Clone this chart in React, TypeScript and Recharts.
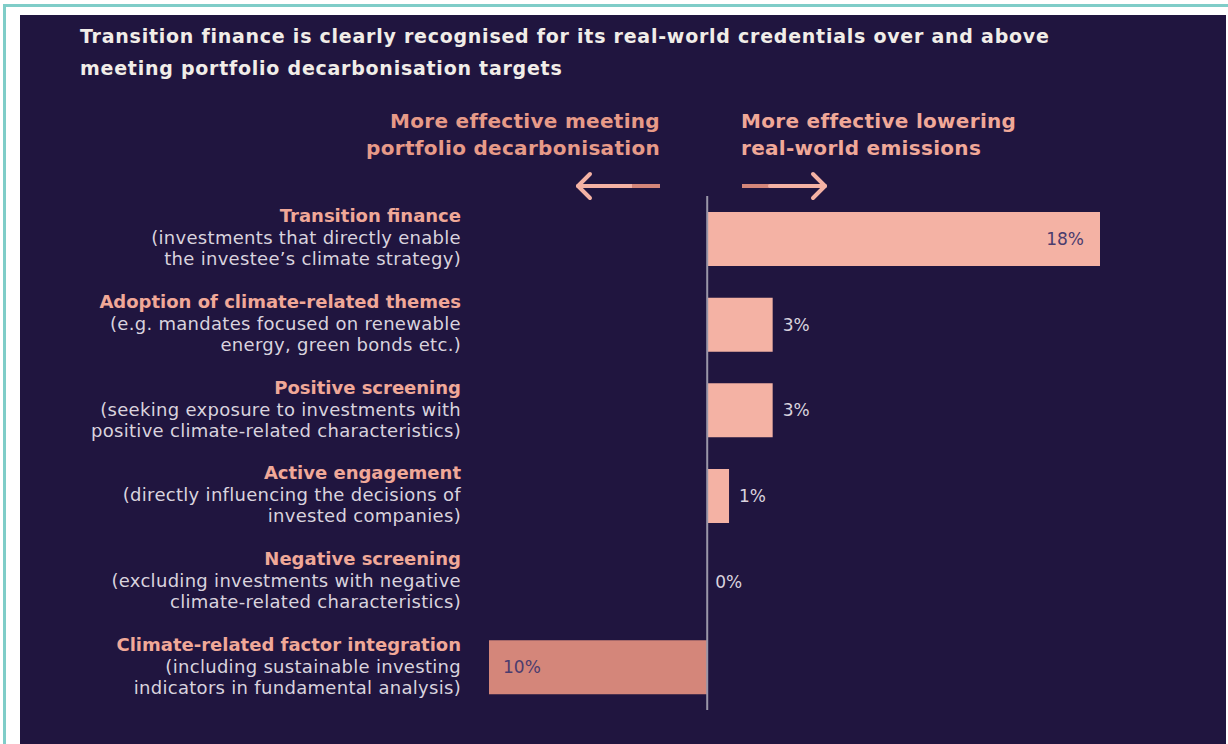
import React from 'react';
import { BarChart, Bar, XAxis, YAxis, Cell, LabelList, ReferenceLine } from 'recharts';

const categories = [
  'Transition finance',
  'Adoption of climate-related themes',
  'Positive screening',
  'Active engagement',
  'Negative screening',
  'Climate-related factor integration',
];
const descLine1 = [
  '(investments that directly enable',
  '(e.g. mandates focused on renewable',
  '(seeking exposure to investments with',
  '(directly influencing the decisions of',
  '(excluding investments with negative',
  '(including sustainable investing',
];
const descLine2 = [
  'the investee\u2019s climate strategy)',
  'energy, green bonds etc.)',
  'positive climate-related characteristics)',
  'invested companies)',
  'climate-related characteristics)',
  'indicators in fundamental analysis)',
];
const values = [18, 3, 3, 1, 0, -10];

const title1 = 'Transition finance is clearly recognised for its real-world credentials over and above';
const title2 = 'meeting portfolio decarbonisation targets';
const leftHead = ['More effective meeting', 'portfolio decarbonisation'];
const rightHead = ['More effective lowering', 'real-world emissions'];

const data = categories.map((name, i) => ({
  name,
  value: values[i],
}));

const NAVY = '#20153f';
const BAR = '#f4b2a4';
const BAR_NEG = '#d4867a';
const SALMON = '#f0a898';
const GREY = '#d9d3de';
const FONT = '"DejaVu Sans", "Open Sans", sans-serif';

const CatTick = (props: any) => {
  const { x, y, payload } = props;
  const i = categories.indexOf(payload.value);
  return (
    <g>
      <text x={x} y={y - 23} textAnchor="end" dominantBaseline="central" fill={SALMON} fontFamily={FONT} fontWeight={700} fontSize={18}>
        {categories[i]}
      </text>
      <text x={x} y={y - 1} textAnchor="end" dominantBaseline="central" fill={GREY} fontFamily={FONT} fontSize={18} letterSpacing={0.3}>
        {descLine1[i]}
      </text>
      <text x={x} y={y + 20} textAnchor="end" dominantBaseline="central" fill={GREY} fontFamily={FONT} fontSize={18} letterSpacing={0.3}>
        {descLine2[i]}
      </text>
    </g>
  );
};

const ValueLabel = (props: any) => {
  const { x, y, width, height, value } = props;
  const v = Number(value);
  const left = Math.min(x, x + width);
  const right = Math.max(x, x + width);
  const cy = y + height / 2;
  let tx = v === 0 ? left + 8 : right + 10;
  let anchor: any = 'start';
  let fill = GREY;
  if (v >= 5) {
    tx = right - 16;
    anchor = 'end';
    fill = '#4b3c6e';
  } else if (v <= -5) {
    tx = left + 14;
    anchor = 'start';
    fill = '#4b3c6e';
  }
  return (
    <text x={tx} y={cy} textAnchor={anchor} dominantBaseline="central" fill={fill} fontFamily={FONT} fontSize={17}>
      {`${Math.abs(v)}%`}
    </text>
  );
};

export default function App() {
  return (
    <div style={{ position: 'absolute', left: 0, top: 0, width: 1228, height: 744, background: '#ffffff', overflow: 'hidden' }}>
      <div style={{ position: 'absolute', left: 3, top: 4, width: 1225, height: 3, background: '#7fcdc8' }} />
      <div style={{ position: 'absolute', left: 3, top: 4, width: 3, height: 740, background: '#7fcdc8' }} />
      <div style={{ position: 'absolute', left: 20, top: 15, width: 1206, height: 729, background: NAVY }} />
      <svg style={{ position: 'absolute', left: 0, top: 0 }} width={1228} height={744}>
        <text x={80} y={43} fill="#f1ede8" fontFamily={FONT} fontWeight={700} fontSize={19} letterSpacing={0.75}>{title1}</text>
        <text x={80} y={75} fill="#f1ede8" fontFamily={FONT} fontWeight={700} fontSize={19} letterSpacing={0.75}>{title2}</text>
        <text x={660} y={121} textAnchor="end" dominantBaseline="central" fill="#e79a88" fontFamily={FONT} fontWeight={700} fontSize={20} letterSpacing={0.3}>{leftHead[0]}</text>
        <text x={660} y={148} textAnchor="end" dominantBaseline="central" fill="#e79a88" fontFamily={FONT} fontWeight={700} fontSize={20} letterSpacing={0.3}>{leftHead[1]}</text>
        <text x={741} y={121} dominantBaseline="central" fill="#f0a898" fontFamily={FONT} fontWeight={700} fontSize={20} letterSpacing={0.3}>{rightHead[0]}</text>
        <text x={741} y={148} dominantBaseline="central" fill="#f0a898" fontFamily={FONT} fontWeight={700} fontSize={20} letterSpacing={0.3}>{rightHead[1]}</text>
        <g strokeLinecap="round" strokeLinejoin="round" fill="none" strokeWidth={4}>
          <line x1={578} y1={186} x2={632} y2={186} stroke={BAR} />
          <line x1={632} y1={186} x2={660} y2={186} stroke={BAR_NEG} strokeLinecap="butt" />
          <polyline points="590,174 578,186 590,198" stroke={BAR} />
          <line x1={742} y1={186} x2={770} y2={186} stroke={BAR_NEG} strokeLinecap="butt" />
          <line x1={770} y1={186} x2={825} y2={186} stroke={BAR} />
          <polyline points="813,174 825,186 813,198" stroke={BAR} />
        </g>
      </svg>
      <div style={{ position: 'absolute', left: 0, top: 0 }}>
        <BarChart
          width={1228}
          height={744}
          data={data}
          layout="vertical"
          margin={{ top: 196, right: 128, bottom: 34, left: 0 }}
        >
          <XAxis type="number" domain={[-10, 18]} hide />
          <YAxis
            type="category"
            dataKey="name"
            width={489}
            axisLine={false}
            tickLine={false}
            tickSize={0}
            tickMargin={28}
            tick={<CatTick />}
            interval={0}
          />
          <Bar dataKey="value" barSize={54} minPointSize={1} isAnimationActive={false}>
            {data.map((d, i) => (
              <Cell key={i} fill={d.value < 0 ? BAR_NEG : d.value === 0 ? 'transparent' : BAR} />
            ))}
            <LabelList dataKey="value" content={<ValueLabel />} />
          </Bar>
          <ReferenceLine x={0} stroke="#9a96a8" strokeWidth={2} ifOverflow="extendDomain" />
        </BarChart>
      </div>
    </div>
  );
}
